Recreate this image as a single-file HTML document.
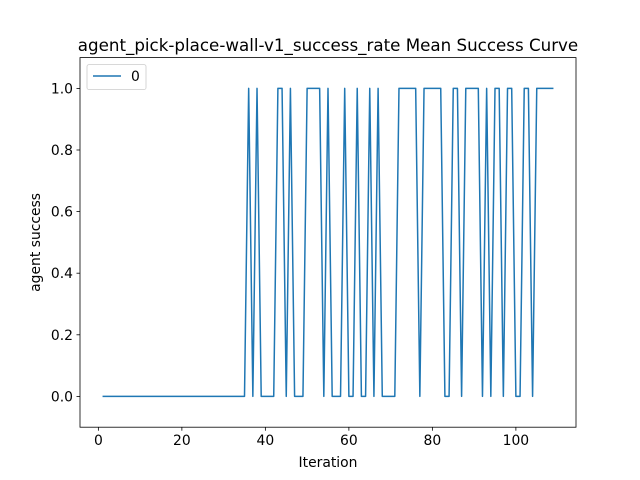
<!DOCTYPE html>
<html><head><meta charset="utf-8"><style>body{margin:0;background:#fff}svg{display:block;font-family:"DejaVu Sans","Liberation Sans",sans-serif}</style></head>
<body>
<svg id="chart" width="640" height="480" xmlns="http://www.w3.org/2000/svg"></svg>
<script>
const iterations = [];
for (let i = 1; i <= 109; i++) iterations.push(i);
const successValues = [
0,0,0,0,0,0,0,0,0,0, 0,0,0,0,0,0,0,0,0,0, 0,0,0,0,0,0,0,0,0,0, 0,0,0,0,0,
1,0,1,0,0,0,0,1,1,0,1,0,0,0,1,1,1,1,0,1,0,0,0,1,0,0,1,0,0,1,0,1,0,0,0,0,
1,1,1,1,1,0,1,1,1,1,1,0,0,1,1,0,1,1,1,1,0,1,0,1,1,0,1,1,0,0,1,1,0,1,1,1,1,1];
const xTicks = [0,20,40,60,80,100];
const yTicks = [0.0,0.2,0.4,0.6,0.8,1.0];
const L=80,R=576,T=57.6,B=427.2, xmin=-4.4,xmax=114.4,ymin=-0.1,ymax=1.1;
const xs=v=>L+(v-xmin)/(xmax-xmin)*(R-L);
const ys=v=>B-(v-ymin)/(ymax-ymin)*(B-T);
const svg=document.getElementById('chart');
const NS='http://www.w3.org/2000/svg';
function mk(tag,attrs,text){const e=document.createElementNS(NS,tag);for(const k in attrs)e.setAttribute(k,attrs[k]);if(text!==undefined)e.textContent=text;svg.appendChild(e);return e;}
let d='';
iterations.forEach((x,i)=>{d+=(i?'L':'M')+xs(x).toFixed(2)+' '+ys(successValues[i]).toFixed(2);});
const line=mk('path',{d:d,fill:'none',stroke:'#1f77b4','stroke-width':1.5,'stroke-linejoin':'round'});


const frame=mk('rect',{x:L,y:T,width:R-L,height:B-T,fill:'none',stroke:'#000','stroke-width':0.8});


xTicks.forEach(t=>{const x=xs(t);mk('line',{x1:x,x2:x,y1:B,y2:B+3.5,stroke:'#000','stroke-width':0.8});
const lb=mk('text',{x:x,y:B+18,'text-anchor':'middle','font-size':13.9},String(t));

});
yTicks.forEach(t=>{const y=ys(t);mk('line',{x1:L-3.5,x2:L,y1:y,y2:y,stroke:'#000','stroke-width':0.8});
const lb=mk('text',{x:L-7,y:y+5,'text-anchor':'end','font-size':13.9},t.toFixed(1));

});
const xt=mk('text',{x:(L+R)/2,y:467,'text-anchor':'middle','font-size':13.9},'Iteration');


const yt=mk('text',{x:0,y:0,'text-anchor':'middle','font-size':13.9,transform:'translate(40 '+((T+B)/2)+') rotate(-90)'},'agent success');


const ti=mk('text',{x:(L+R)/2,y:51,'text-anchor':'middle','font-size':16.7},'agent_pick-place-wall-v1_success_rate Mean Success Curve');


const lg=mk('rect',{x:87,y:64.6,width:59,height:25,rx:2,fill:'#fff',stroke:'#ccc','stroke-width':0.8});


const ll=mk('line',{x1:93,x2:121,y1:76,y2:76,stroke:'#1f77b4','stroke-width':1.5});


const lt=mk('text',{x:131,y:81,'font-size':13.9},'0');


</script>
</body></html>
